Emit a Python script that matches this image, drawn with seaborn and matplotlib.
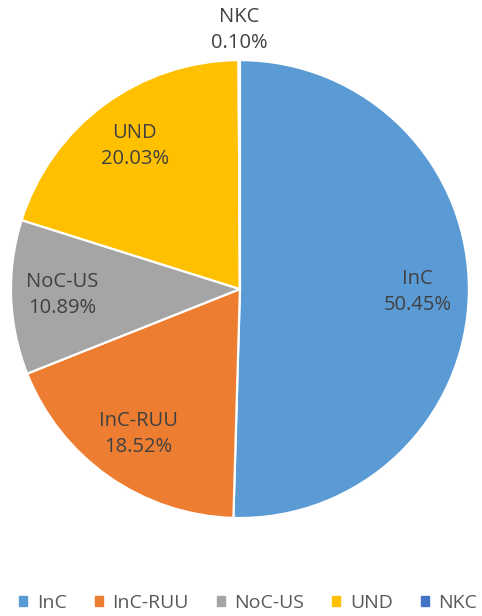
import matplotlib
matplotlib.use("Agg")
import matplotlib.pyplot as plt
import seaborn as sns
import numpy as np

categories = ["InC", "InC-RUU", "NoC-US", "UND", "NKC"]
values = [50.45, 18.52, 10.89, 20.03, 0.10]
pct_labels = ["50.45%", "18.52%", "10.89%", "20.03%", "0.10%"]
colors = ["#5B9BD5", "#ED7D31", "#A5A5A5", "#FFC000", "#4472C4"]

sns.set_theme(style="white")
plt.rcParams['font.family'] = ['Open Sans', 'DejaVu Sans']

fig = plt.figure(figsize=(4.82, 6.16), dpi=100)
ax = fig.add_axes([0.0228, 0.159, 0.950, 0.7435])

wedges, _ = ax.pie(values, colors=colors, startangle=90, counterclock=False,
                   radius=1.0,
                   wedgeprops=dict(edgecolor="white", linewidth=1.6))
ax.set_xlim(-1, 1)
ax.set_ylim(-1, 1)
ax.set_aspect("equal")
ax.axis("off")

for w, cat, pl in zip(wedges, categories, pct_labels):
    ang = np.deg2rad((w.theta1 + w.theta2) / 2)
    if cat == "NKC":
        d = 1.13
    else:
        d = 0.775
    x, y = d * np.cos(ang), d * np.sin(ang)
    ax.text(x, y, f"{cat}\n{pl}", ha="center", va="center", fontsize=14.5,
            color="#404040", linespacing=1.4)

handles = [plt.Rectangle((0, 0), 1, 1, color=c) for c in colors]
fig.legend(handles, categories, loc="center", bbox_to_anchor=(0.515, 0.021),
           ncol=5, frameon=False, fontsize=14, handlelength=0.4,
           handleheight=0.4, handletextpad=0.5, columnspacing=1.45,
           labelcolor="#595959")

fig.savefig("out.png", dpi=100)
